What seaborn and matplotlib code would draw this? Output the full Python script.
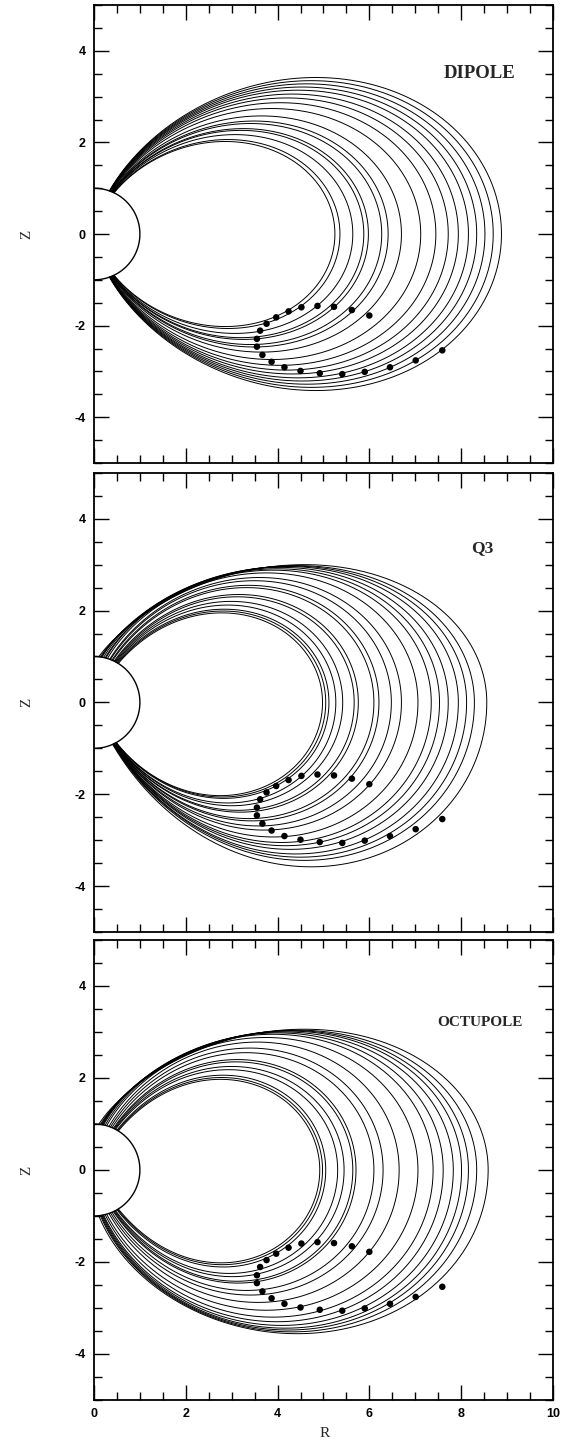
import numpy as np
import pandas as pd
import seaborn as sns
import matplotlib.pyplot as plt
from matplotlib.ticker import MultipleLocator

# ---- data ---------------------------------------------------------------
# dipole panel: equatorial crossing R of each field line
dip_req = [5.25, 5.36, 5.64, 5.88, 5.98, 6.27, 6.41, 6.70, 7.12, 7.45,
           7.72, 7.94, 8.16, 8.34, 8.52, 8.70, 8.88]

# Q3 panel: equator crossing, top height / north footpoint latitude,
# bottom depth / south footpoint latitude
q3_req = [4.98, 5.05, 5.12, 5.27, 5.42, 5.67, 5.76, 6.10, 6.21, 6.48,
          6.70, 7.06, 7.35, 7.53, 7.72, 7.94, 8.12, 8.29, 8.56]
q3_ztop = [1.95, 1.99, 2.03, 2.12, 2.20, 2.30, 2.35, 2.50, 2.55, 2.65,
           2.72, 2.82, 2.88, 2.91, 2.94, 2.96, 2.97, 2.98, 3.00]
q3_lat_n = [58, 59, 60, 61, 62, 63, 64, 66, 67, 69,
            70, 73, 75, 76, 78, 80, 81, 82, 84]
q3_zbot = [-2.03, -2.06, -2.09, -2.19, -2.25, -2.35, -2.39, -2.53, -2.58, -2.69,
           -2.78, -2.93, -3.05, -3.12, -3.20, -3.30, -3.37, -3.44, -3.58]
q3_lat_s = [-61, -61, -61.5, -62, -62, -62.5, -62.5, -63, -63, -63.5,
            -63.5, -64, -64, -64.5, -64.5, -65, -65, -65.5, -66]

# octupole panel
oc_req = [4.92, 4.98, 5.05, 5.31, 5.45, 5.64, 5.71, 6.10, 6.30, 6.65,
          7.06, 7.39, 7.61, 7.83, 8.01, 8.16, 8.34, 8.59]
oc_ztop = [1.97, 2.01, 2.06, 2.18, 2.25, 2.35, 2.40, 2.55, 2.65, 2.78,
           2.88, 2.95, 2.98, 3.00, 3.02, 3.03, 3.04, 3.06]
oc_lat_n = [58, 59, 60, 62, 63, 64, 65, 67, 69, 71,
            74, 76, 78, 79, 80, 81, 82, 84]
oc_zbot = [-2.02, -2.06, -2.11, -2.25, -2.32, -2.42, -2.46, -2.62, -2.72, -2.88,
           -3.05, -3.20, -3.30, -3.38, -3.44, -3.48, -3.52, -3.56]
oc_lat_s = [-58, -59, -60, -62, -63, -64, -65, -67, -69, -71,
            -74, -76, -78, -79, -80, -81, -82, -84]

# dots (same positions in all three panels)
dot_r = [3.76, 3.97, 4.24, 4.52, 4.87, 5.23, 5.62, 6.00,
         3.62, 3.55, 3.55, 3.67,
         3.87, 4.15, 4.50, 4.92, 5.41, 5.90, 6.45, 7.01, 7.59]
dot_z = [-1.96, -1.82, -1.69, -1.60, -1.57, -1.59, -1.66, -1.78,
         -2.11, -2.29, -2.46, -2.64,
         -2.79, -2.91, -2.99, -3.04, -3.06, -3.01, -2.91, -2.76, -2.54]

labels = ['DIPOLE', 'Q3', 'OCTUPOLE']
label_pos = [(8.4, 3.5), (8.46, 3.36), (8.42, 3.2)]
label_size = [13.5, 12.5, 11]


def half_line(req, lat_f, zext):
    # dipole loop of the same equatorial radius, with its foot moved to
    # lat_f and its height scaled to zext
    mu_f = np.arccos(1 / np.sqrt(req))
    t = np.linspace(0, 1, 300)
    mu = t * mu_f
    alpha = np.radians(abs(lat_f)) / mu_f - 1
    lam = mu * (1 + alpha * t ** 3)
    h = t ** 2 * (1 - t ** 6)
    base = req * np.cos(mu) ** 2
    lo, hi = -3.0, 0.95
    for _ in range(50):
        b = 0.5 * (lo + hi)
        if np.max(base * (1 - b * h) * np.sin(lam)) > abs(zext):
            lo = b
        else:
            hi = b
    r = base * (1 - 0.5 * (lo + hi) * h)
    return r * np.cos(lam), np.sign(lat_f) * r * np.sin(lam)


def dipole_frame(reqs):
    rows = []
    for i, L in enumerate(reqs):
        lf = np.arccos(1 / np.sqrt(L))
        lam = np.linspace(lf, -lf, 500)
        r = L * np.cos(lam) ** 2
        rows.append(pd.DataFrame({'R': r * np.cos(lam), 'Z': r * np.sin(lam), 'line': i}))
    return pd.concat(rows, ignore_index=True)


def model_frame(reqs, ztop, lat_n, zbot, lat_s):
    rows = []
    for i in range(len(reqs)):
        rn, zn = half_line(reqs[i], lat_n[i], ztop[i])
        rs, zs = half_line(reqs[i], lat_s[i], zbot[i])
        R = np.concatenate([rn[::-1], rs[1:]])
        Z = np.concatenate([zn[::-1], zs[1:]])
        rows.append(pd.DataFrame({'R': R, 'Z': Z, 'line': i}))
    return pd.concat(rows, ignore_index=True)


frames = [dipole_frame(dip_req),
          model_frame(q3_req, q3_ztop, q3_lat_n, q3_zbot, q3_lat_s),
          model_frame(oc_req, oc_ztop, oc_lat_n, oc_zbot, oc_lat_s)]

sns.set_theme(style='ticks')
plt.rcParams['axes.unicode_minus'] = False

fig = plt.figure(figsize=(5.63, 14.41), dpi=100)
boxes = [[0.167, 0.6787, 0.815, 0.3178],
         [0.167, 0.3532, 0.815, 0.3187],
         [0.167, 0.0285, 0.815, 0.3192]]

th = np.linspace(np.pi / 2, -np.pi / 2, 200)
sphere = pd.DataFrame({'R': np.cos(th), 'Z': np.sin(th)})

for k in range(3):
    ax = fig.add_axes(boxes[k])
    sns.lineplot(data=frames[k], x='R', y='Z', units='line', estimator=None,
                 sort=False, color='black', linewidth=0.7, ax=ax, legend=False)
    sns.lineplot(data=sphere, x='R', y='Z', sort=False, estimator=None,
                 color='black', linewidth=1.0, ax=ax)
    sns.scatterplot(x=dot_r, y=dot_z, color='black', s=22, edgecolor='none',
                    ax=ax, zorder=3)
    ax.set_xlim(0, 10)
    ax.set_ylim(-5, 5)
    ax.xaxis.set_major_locator(MultipleLocator(2))
    ax.xaxis.set_minor_locator(MultipleLocator(0.5))
    ax.yaxis.set_major_locator(MultipleLocator(2))
    ax.yaxis.set_minor_locator(MultipleLocator(0.5))
    ax.tick_params(which='both', direction='in', top=True, right=True,
                   width=1.0, colors='black')
    ax.tick_params(which='major', length=11, pad=6)
    ax.tick_params(which='minor', length=5.5)
    for s in ax.spines.values():
        s.set_linewidth(1.3)
        s.set_color('black')
    for t in ax.get_yticklabels() + ax.get_xticklabels():
        t.set_family('Liberation Sans')
        t.set_fontweight('bold')
        t.set_fontsize(9)
    ax.set_ylabel('Z', family='Liberation Serif', fontsize=11, va='center')
    ax.yaxis.set_label_coords(-0.146, 0.5)
    if k < 2:
        ax.tick_params(labelbottom=False)
        ax.set_xlabel('')
    else:
        ax.set_xlabel('R', family='Liberation Serif', fontsize=11, va='center')
        ax.xaxis.set_label_coords(0.503, -0.072)
    ax.text(label_pos[k][0], label_pos[k][1], labels[k], ha='center', va='center',
            family='Liberation Serif', fontweight='bold', fontsize=label_size[k])

fig.savefig('out.png', dpi=100)
